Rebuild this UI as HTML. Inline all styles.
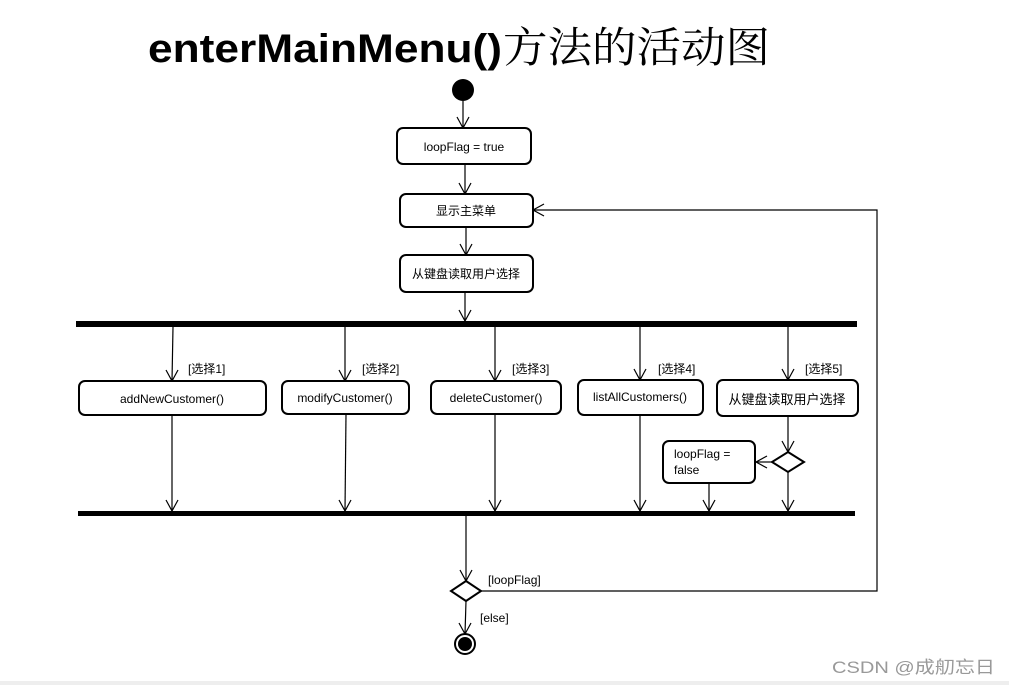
<!DOCTYPE html>
<html><head><meta charset="utf-8"><style>
html,body{margin:0;padding:0;background:#fff;}
svg{display:block;}
text{font-family:"Liberation Sans","Noto Sans CJK SC",sans-serif;fill:#000;}
</style></head><body>
<svg width="1009" height="685" viewBox="0 0 1009 685" xmlns="http://www.w3.org/2000/svg">
<rect x="0" y="681" width="1009" height="4" fill="#eeeeee"/>
<text x="148" y="62" font-size="40" font-weight="bold" textLength="354" lengthAdjust="spacingAndGlyphs">enterMainMenu()</text>
<text x="503" y="62" font-size="42" textLength="267" lengthAdjust="spacingAndGlyphs" style="font-family:'Noto Serif CJK SC',serif">方法的活动图</text>

<g stroke="#000" fill="none" stroke-width="1.2">
<line x1="463" y1="101" x2="463" y2="128"/><polyline points="457,117 463,128 469,117"/>
<line x1="465" y1="164" x2="465" y2="194"/><polyline points="459,183 465,194 471,183"/>
<line x1="466" y1="227" x2="466" y2="255"/><polyline points="460,244 466,255 472,244"/>
<line x1="465" y1="292" x2="465" y2="321"/><polyline points="459,310 465,321 471,310"/>

<line x1="173" y1="327" x2="172" y2="381"/><polyline points="166,370 172,381 178,370"/>
<line x1="345" y1="327" x2="345" y2="381"/><polyline points="339,370 345,381 351,370"/>
<line x1="495" y1="327" x2="495" y2="381"/><polyline points="489,370 495,381 501,370"/>
<line x1="640" y1="327" x2="640" y2="380"/><polyline points="634,369 640,380 646,369"/>
<line x1="788" y1="327" x2="788" y2="380"/><polyline points="782,369 788,380 794,369"/>

<line x1="172" y1="415" x2="172" y2="511"/><polyline points="166,500 172,511 178,500"/>
<line x1="346" y1="414" x2="345" y2="511"/><polyline points="339,500 345,511 351,500"/>
<line x1="495" y1="414" x2="495" y2="511"/><polyline points="489,500 495,511 501,500"/>
<line x1="640" y1="415" x2="640" y2="511"/><polyline points="634,500 640,511 646,500"/>
<line x1="709" y1="483" x2="709" y2="511"/><polyline points="703,500 709,511 715,500"/>
<line x1="788" y1="472" x2="788" y2="511"/><polyline points="782,500 788,511 794,500"/>
<line x1="788" y1="416" x2="788" y2="452"/><polyline points="782,441 788,452 794,441"/>
<line x1="772" y1="462" x2="756" y2="462"/><polyline points="767,456 756,462 767,468"/>

<line x1="466" y1="516" x2="466" y2="581"/><polyline points="460,570 466,581 472,570"/>
<polyline points="481,591 877,591 877,210 533,210"/><polyline points="544,204 533,210 544,216"/>
<line x1="466" y1="601" x2="465" y2="634"/><polyline points="459,623 465,634 471,623"/>
</g>

<circle cx="463" cy="90" r="11" fill="#000"/>
<circle cx="465" cy="644" r="10" fill="#fff" stroke="#000" stroke-width="2"/>
<circle cx="465" cy="644" r="7" fill="#000"/>

<rect x="76" y="321" width="781" height="6" fill="#000"/>
<rect x="78" y="511" width="777" height="5" fill="#000"/>

<g fill="#fff" stroke="#000" stroke-width="2">
<rect x="397" y="128" width="134" height="36" rx="6"/>
<rect x="400" y="194" width="133" height="33" rx="6"/>
<rect x="400" y="255" width="133" height="37" rx="6"/>
<rect x="79" y="381" width="187" height="34" rx="6"/>
<rect x="282" y="381" width="127" height="33" rx="6"/>
<rect x="431" y="381" width="130" height="33" rx="6"/>
<rect x="578" y="380" width="125" height="35" rx="6"/>
<rect x="717" y="380" width="141" height="36" rx="6"/>
<rect x="663" y="441" width="92" height="42" rx="6"/>
<polygon points="788,452 804,462 788,472 772,462"/>
<polygon points="466,581 481,591 466,601 451,591"/>
</g>

<g font-size="12" text-anchor="middle">
<text x="464" y="151">loopFlag = true</text>
<text x="466" y="215">显示主菜单</text>
<text x="466" y="278">从键盘读取用户选择</text>
<text x="172" y="403">addNewCustomer()</text>
<text x="345" y="402">modifyCustomer()</text>
<text x="496" y="402">deleteCustomer()</text>
<text x="640" y="401">listAllCustomers()</text>
<text x="787" y="404" font-size="13">从键盘读取用户选择</text>
</g>
<g font-size="12">
<text x="674" y="458">loopFlag =</text>
<text x="674" y="474">false</text>
<text x="188" y="373">[选择1]</text>
<text x="362" y="373">[选择2]</text>
<text x="512" y="373">[选择3]</text>
<text x="658" y="373">[选择4]</text>
<text x="805" y="373">[选择5]</text>
<text x="488" y="584">[loopFlag]</text>
<text x="480" y="622">[else]</text>
</g>
<text x="832" y="673" font-size="17" textLength="163" lengthAdjust="spacingAndGlyphs" style="fill:#999">CSDN @成舠忘日</text>
</svg>
</body></html>
